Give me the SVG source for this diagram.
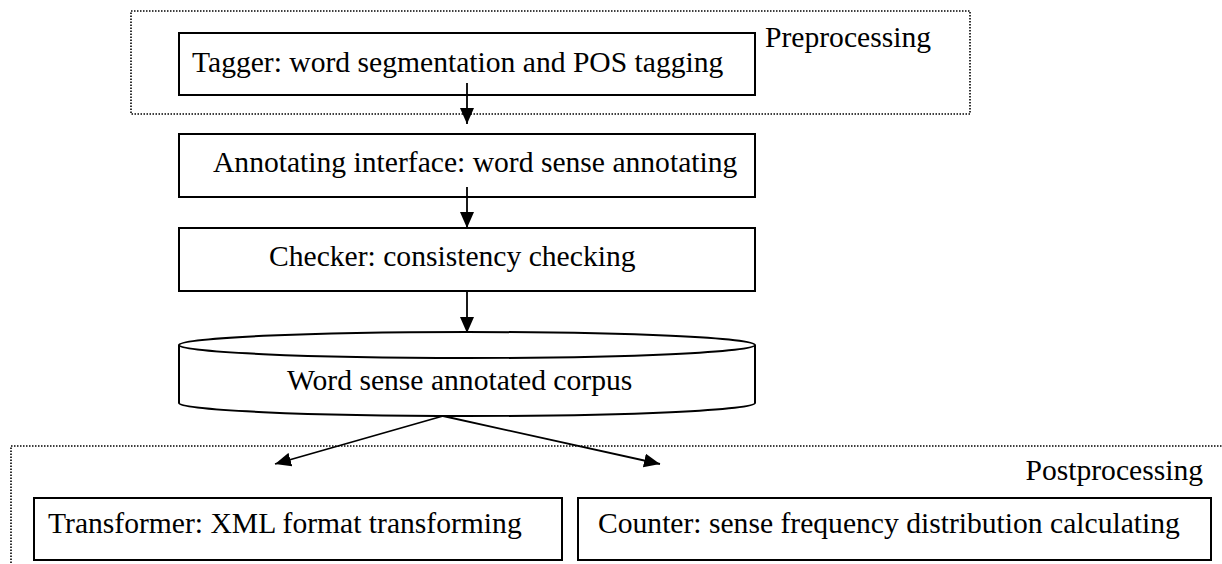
<svg xmlns="http://www.w3.org/2000/svg" width="1222" height="564" viewBox="0 0 1222 564">
  <style>
    .box { fill: #fff; stroke: #000; stroke-width: 2; }
    .region { fill: none; stroke: #000; stroke-width: 1.6; stroke-dasharray: 1.5 1.5; }
    .label { font-family: "Liberation Serif", "Times New Roman", serif; font-size: 29.6px; fill: #000; }
    .edge { fill: none; stroke: #000; stroke-width: 1.8; }
  </style>
  <defs>
    <marker id="arrow" viewBox="0 0 16 14" refX="16" refY="7" markerWidth="16" markerHeight="14" markerUnits="userSpaceOnUse" orient="auto">
      <path d="M0,0 L16,7 L0,14 Z" fill="#000"/>
    </marker>
  </defs>
  <rect width="1222" height="564" fill="#fff"/>

  <!-- processing stages -->
  <g id="preprocessing">
    <rect class="region" x="131" y="11" width="839" height="103"/>
    <text class="label" x="765" y="47">Preprocessing</text>
  </g>
  <g id="postprocessing">
    <path class="region" d="M11,566 V446 H1226"/>
    <text class="label" x="1203" y="480" text-anchor="end">Postprocessing</text>
  </g>

  <g id="tagger">
    <rect class="box" x="179" y="33" width="576" height="62"/>
    <text class="label" x="192" y="72">Tagger: word segmentation and POS tagging</text>
  </g>
  <g id="annotating">
    <rect class="box" x="179" y="134" width="576" height="63"/>
    <text class="label" x="213" y="172">Annotating interface: word sense annotating</text>
  </g>
  <g id="checker">
    <rect class="box" x="179" y="228" width="576" height="63"/>
    <text class="label" x="269" y="266">Checker: consistency checking</text>
  </g>
  <g id="corpus">
    <path class="box" d="M179,345 V403 A288,13 0 0 0 755,403 V345"/>
    <ellipse class="box" cx="467" cy="345" rx="288" ry="13"/>
    <text class="label" x="287" y="390">Word sense annotated corpus</text>
  </g>
  <g id="transformer">
    <rect class="box" x="34" y="498" width="528" height="62"/>
    <text class="label" x="48" y="533">Transformer: XML format transforming</text>
  </g>
  <g id="counter">
    <rect class="box" x="578" y="498" width="633" height="62"/>
    <text class="label" x="598" y="533">Counter: sense frequency distribution calculating</text>
  </g>

  <!-- connectors -->
  <g id="connectors">
    <line class="edge" x1="467" y1="83" x2="467" y2="124" marker-end="url(#arrow)"/>
    <line class="edge" x1="467" y1="187" x2="467" y2="228" marker-end="url(#arrow)"/>
    <line class="edge" x1="467" y1="291" x2="467" y2="333" marker-end="url(#arrow)"/>
    <line class="edge" x1="443" y1="416" x2="275" y2="464" marker-end="url(#arrow)"/>
    <line class="edge" x1="443" y1="416" x2="660" y2="464" marker-end="url(#arrow)"/>
  </g>
</svg>
